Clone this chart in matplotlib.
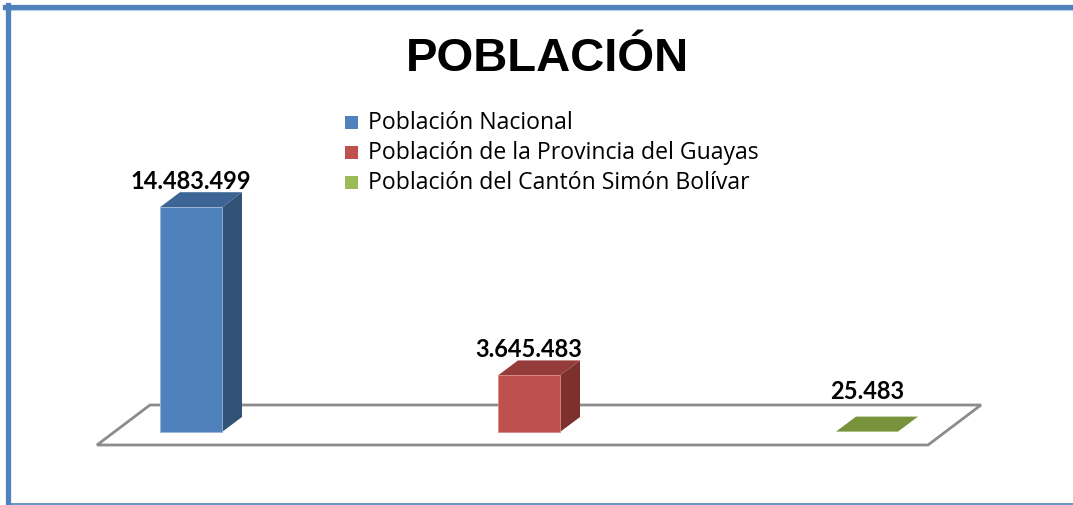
import matplotlib
matplotlib.use("Agg")
import matplotlib.pyplot as plt
from matplotlib.patches import Polygon, Rectangle
from matplotlib.lines import Line2D

# data
categorias = ["Población Nacional",
              "Población de la Provincia del Guayas",
              "Población del Cantón Simón Bolívar"]
valores = [14483499, 3645483, 25483]
etiquetas = ["14.483.499", "3.645.483", "25.483"]
col_frente = ["#4f81bd", "#c0504d", "#9bbb59"]
col_lado = ["#325278", "#7d302e", "#5f7a2e"]
col_arriba = ["#3c6494", "#943c39", "#77933c"]

W, H = 1073, 506
fig = plt.figure(figsize=(W / 100, H / 100), dpi=100)
ax = fig.add_axes([0, 0, 1, 1])

# pixel scale: 338 px per category, 15.52 px per million
px_x = 338.0
px_y = 15.52e-6
ax.set_xlim(-191 / px_x, -191 / px_x + W / px_x)
ax.set_ylim(-73 / px_y, (H - 73) / px_y)
ax.axis("off")

# depth offsets (in data units)
dx = 20 / px_x
dy = 15 / px_y
half = 31 / px_x

# floor
fx0, fx1 = -94 / px_x, 737 / px_x
fdy_front = -13 / px_y
fdx, fdy = 53 / px_x, 40 / px_y
floor = Polygon([(fx0, fdy_front), (fx1, fdy_front),
                 (fx1 + fdx, fdy_front + fdy), (fx0 + fdx, fdy_front + fdy)],
                closed=True, facecolor="white", edgecolor="#8c8c8c", lw=2, zorder=1)
ax.add_patch(floor)

for i, v in enumerate(valores):
    l, r = i - half, i + half
    if v > 0.02 * max(valores):
        ax.add_patch(Polygon([(r, 0), (r + dx, dy), (r + dx, v + dy), (r, v)],
                             facecolor=col_lado[i], edgecolor="none", zorder=2))
        ax.add_patch(Polygon([(l, v), (r, v), (r + dx, v + dy), (l + dx, v + dy)],
                             facecolor=col_arriba[i], edgecolor="none", zorder=2))
        ax.add_patch(Polygon([(l, 0), (r, 0), (r, v), (l, v)],
                             facecolor=col_frente[i], edgecolor="#9ab4d8" if i == 0 else "#d88a88",
                             lw=0.6, zorder=3))
    else:
        ax.add_patch(Polygon([(l, v), (r, v), (r + dx, v + dy), (l + dx, v + dy)],
                             facecolor=col_arriba[i], edgecolor="none", zorder=2))
    ylab = max(v + dy + 4 / px_y, 34 / px_y)
    ax.text(i, ylab, etiquetas[i], ha="center", va="baseline",
            fontsize=17, fontweight="bold", family="Lato", color="black")

# title
fig.text(547 / W, 1 - 59 / H, "POBLACIÓN", ha="center", va="center",
         fontsize=34, fontweight="bold", family="Liberation Sans")

# legend
for k, (nombre, c) in enumerate(zip(categorias, col_frente)):
    yc = 123 + 30 * k
    fig.add_artist(Rectangle((345 / W, 1 - (yc + 7) / H), 13 / W, 13 / H,
                             transform=fig.transFigure, facecolor=c, edgecolor="none"))
    fig.text(368 / W, 1 - yc / H, nombre, ha="left", va="center",
             fontsize=16.6, family="Open Sans", color="black")

# frame
blue = "#4f81bd"
fig.add_artist(Line2D([5 / W, 1], [1 - 8 / H] * 2, color=blue, lw=3.8))
fig.add_artist(Line2D([5 / W, 1], [1 - 11 / H] * 2, color="#b8cce4", lw=0.8))
fig.add_artist(Line2D([8 / W] * 2, [0, 1 - 6 / H], color=blue, lw=3.8))
fig.add_artist(Line2D([10 / W, 1], [1.5 / H] * 2, color=blue, lw=1.2))

fig.savefig("out.png", dpi=100)
